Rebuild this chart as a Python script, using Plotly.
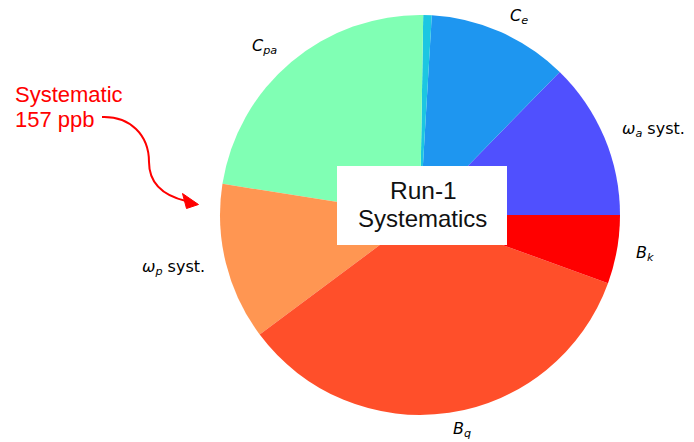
import math
import plotly.graph_objects as go

# Run-1 systematic contributions (ppb); pie shows their squares (variance share)
sources = ["omega_a", "C_e", "C_p", "C_pa", "omega_p", "B_q", "B_k"]
errors_ppb = [56, 53, 13, 75, 56, 92, 37]
label_texts = ["<i>ω</i><sub><i>a</i></sub> syst.", "<i>C</i><sub><i>e</i></sub>", "",
               "<i>C</i><sub><i>pa</i></sub>", "<i>ω</i><sub><i>p</i></sub> syst.",
               "<i>B</i><sub><i>q</i></sub>", "<i>B</i><sub><i>k</i></sub>"]
colors = ["#5050FE", "#1E96F0", "#1CC6E2", "#80FFB4", "#FF9652", "#FF4F2A", "#FF0000"]
variances = [e ** 2 for e in errors_ppb]
total = sum(variances)

OFF = 8  # page body margin
W, H = 694 - OFF, 442 - OFF
L, T, SIDE = 220 - OFF, 15 - OFF, 400


def X(px):
    return (px - OFF - L) / SIDE


def Y(py):
    return (T + SIDE - (py - OFF)) / SIDE


# plotly's counterclockwise pies end the first slice at 'rotation'; start it at 3 o'clock instead
rotation = 90 - 360 * variances[0] / total

fig = go.Figure(go.Pie(
    values=variances, labels=sources, marker=dict(colors=colors, line=dict(width=0)),
    sort=False, direction="counterclockwise", rotation=rotation, textinfo="none",
    hoverinfo="label+value", showlegend=False,
    domain=dict(x=[0, 1], y=[0, 1]),
))

annotations = []
cum = 0.0
for v, txt in zip(variances, label_texts):
    mid = (cum + v / 2) / total * 2 * math.pi
    cum += v
    if not txt:
        continue
    cx, cy = math.cos(mid), math.sin(mid)
    ly = 0.5 + 0.55 * cy
    annotations.append(dict(
        x=0.5 + 0.55 * cx - (0.005 if cx > 0.85 else 0), y=ly, xref="paper", yref="paper",
        text=txt, showarrow=False, xanchor="left" if cx > 0 else "right", yanchor="middle",
        yshift=-3 if ly > 1.0 else (3 if ly < 0 else 0),
        borderpad=0, font=dict(family="DejaVu Sans", size=16, color="black"),
    ))

# centre box text and red note
annotations += [
    dict(x=X(423), y=Y(190), xref="paper", yref="paper", text="Run-1", showarrow=False,
         xanchor="center", yanchor="middle", font=dict(family="Liberation Sans", size=24.5, color="#111")),
    dict(x=X(422), y=Y(218), xref="paper", yref="paper", text="Systematics", showarrow=False,
         xanchor="center", yanchor="middle", font=dict(family="Liberation Sans", size=24, color="#111")),
    dict(x=X(13), y=Y(94), xref="paper", yref="paper", text="Systematic", showarrow=False,
         xanchor="left", yanchor="middle", font=dict(family="Liberation Sans", size=22, color="#FF0000")),
    dict(x=X(13), y=Y(120), xref="paper", yref="paper", text="157 ppb", showarrow=False,
         xanchor="left", yanchor="middle", font=dict(family="Liberation Sans", size=22, color="#FF0000")),
]


def pt(px, py):
    return f"{X(px):.5f},{Y(py):.5f}"


arrow_path = (f"M {pt(102,117)} C {pt(130,116)} {pt(149,135)} {pt(149,162)} "
              f"C {pt(149,185)} {pt(165,196)} {pt(186,201)}")
head_path = f"M {pt(198.5,204.5)} L {pt(182.5,193.5)} L {pt(186.5,208.5)} Z"

shapes = [
    dict(type="rect", xref="paper", yref="paper", x0=X(337), x1=X(507), y0=Y(245), y1=Y(166),
         fillcolor="white", line=dict(width=0), layer="above"),
    dict(type="path", xref="paper", yref="paper", path=arrow_path,
         line=dict(color="#FF0000", width=2), layer="above"),
    dict(type="path", xref="paper", yref="paper", path=head_path,
         fillcolor="#FF0000", line=dict(color="#FF0000", width=1), layer="above"),
]

fig.update_layout(
    width=W, height=H, margin=dict(l=L, r=W - L - SIDE, t=T, b=H - T - SIDE),
    paper_bgcolor="white", plot_bgcolor="white",
    annotations=annotations, shapes=shapes, showlegend=False,
)

fig.write_html("out.html")
